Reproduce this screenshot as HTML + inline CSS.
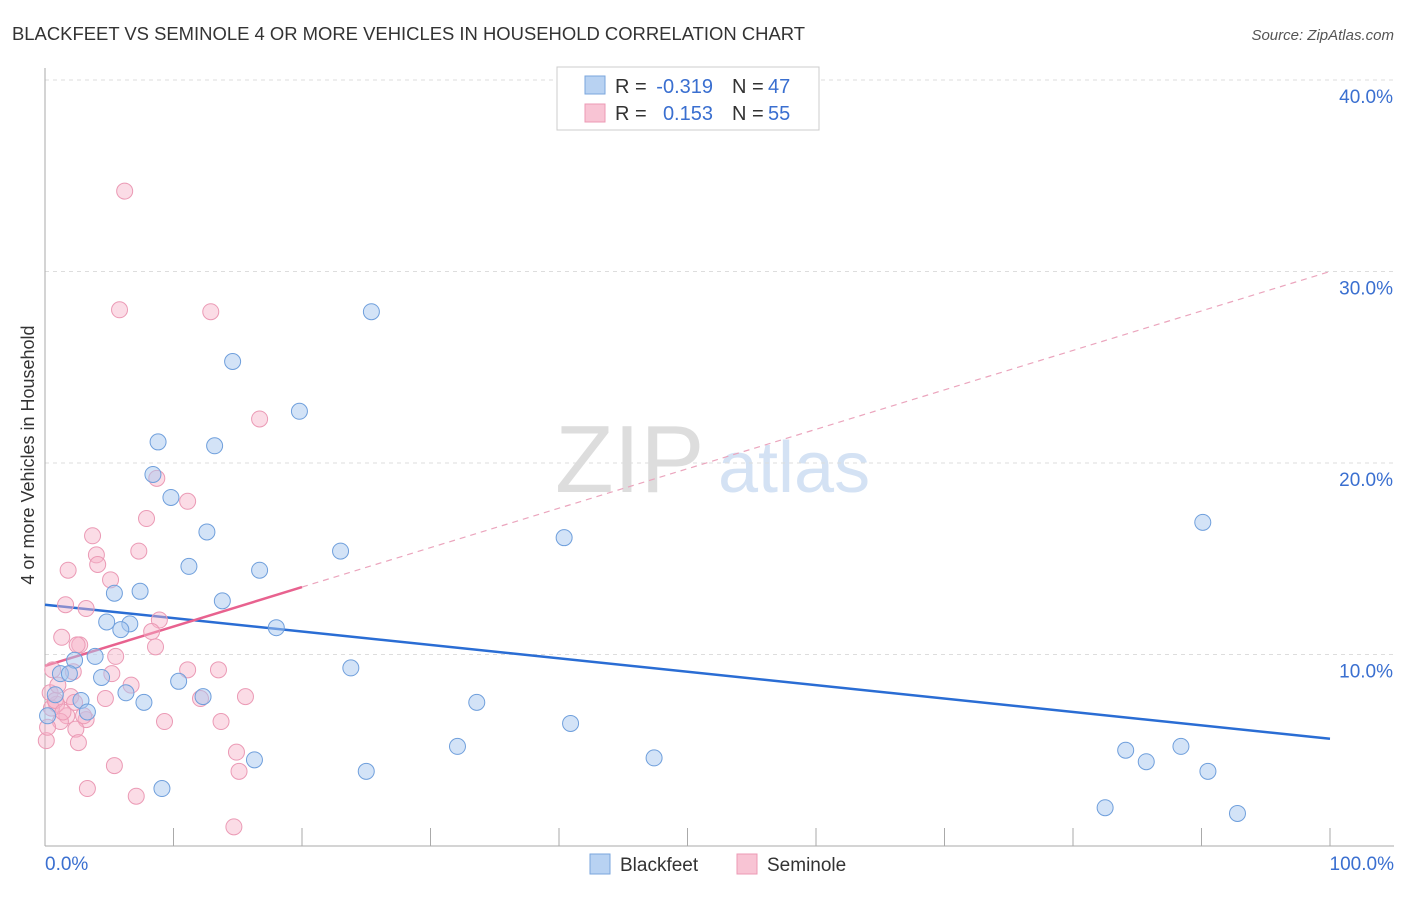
<!DOCTYPE html>
<html><head><meta charset="utf-8"><style>
body{margin:0;background:#fff;font-family:"Liberation Sans",sans-serif;}
svg text{font-family:"Liberation Sans",sans-serif;}
</style></head><body>
<svg id="chart" width="1406" height="892">
<text x="12" y="40" font-size="18" fill="#333" textLength="793" lengthAdjust="spacingAndGlyphs">BLACKFEET VS SEMINOLE 4 OR MORE VEHICLES IN HOUSEHOLD CORRELATION CHART</text>
<text x="1394" y="40" font-size="15" fill="#555" text-anchor="end" font-style="italic">Source: ZipAtlas.com</text>
<text x="34" y="455" font-size="18" fill="#333" text-anchor="middle" transform="rotate(-90 34 455)">4 or more Vehicles in Household</text>
<text x="555" y="492" font-size="96" fill="#ddd" font-family="Liberation Serif">ZIP</text>
<text x="718" y="492" font-size="72" fill="#d4e2f4">atlas</text>
<g id="grid"></g><g id="ticks"></g>
<g id="lines"></g><g id="pts"></g>
<g>
<rect x="557" y="67" width="262" height="63" fill="#fff" stroke="#ccc"/>
<rect x="585" y="76" width="20" height="18" fill="#b8d2f2" stroke="#7aa6dc"/>
<rect x="585" y="104" width="20" height="18" fill="#f8c4d4" stroke="#ec9ab4"/>
<text x="615" y="93" font-size="20" fill="#333">R =</text>
<text x="713" y="93" font-size="20" fill="#3a6fd0" text-anchor="end">-0.319</text>
<text x="732" y="93" font-size="20" fill="#333">N =</text>
<text x="768" y="93" font-size="20" fill="#3a6fd0">47</text>
<text x="615" y="120" font-size="20" fill="#333">R =</text>
<text x="713" y="120" font-size="20" fill="#3a6fd0" text-anchor="end">0.153</text>
<text x="732" y="120" font-size="20" fill="#333">N =</text>
<text x="768" y="120" font-size="20" fill="#3a6fd0">55</text>
</g>
<g>
<rect x="590" y="854" width="20" height="20" fill="#b8d2f2" stroke="#7aa6dc"/>
<text x="620" y="871" font-size="19" fill="#333">Blackfeet</text>
<rect x="737" y="854" width="20" height="20" fill="#f8c4d4" stroke="#ec9ab4"/>
<text x="767" y="871" font-size="19" fill="#333">Seminole</text>
</g>
</svg>
<script>
const yTicks=[10,20,30,40];
const xTickLabels=["0.0%","100.0%"];
const blackfeetX=[25.4,14.6,19.8,8.8,13.2,8.4,9.8,12.6,40.4,90.1,23,11.2,16.7,7.4,5.4,13.8,4.8,6.6,5.9,18,3.9,2.3,1.2,1.9,4.4,23.8,10.4,6.3,12.3,0.8,2.8,7.7,33.6,3.3,40.9,32.1,84.1,88.4,85.7,47.4,16.3,25,90.5,9.1,82.5,92.8,0.2];
const blackfeetY=[27.9,25.3,22.7,21.1,20.9,19.4,18.2,16.4,16.1,16.9,15.4,14.6,14.4,13.3,13.2,12.8,11.7,11.6,11.3,11.4,9.9,9.7,9,9,8.8,9.3,8.6,8,7.8,7.9,7.6,7.5,7.5,7,6.4,5.2,5,5.2,4.4,4.6,4.5,3.9,3.9,3,2,1.7,6.8];
const seminoleX=[6.2,5.8,12.9,16.7,8.7,11.1,7.9,3.7,7.3,4,4.1,1.8,5.1,1.6,3.2,8.9,8.3,1.3,2.7,8.6,2.5,5.5,0.6,11.1,13.5,2.2,5.2,6.7,15.6,4.7,2,12.1,0.9,0.5,2.3,1.7,3.2,1.2,9.3,13.7,2.4,2.6,0.1,14.9,5.4,15.1,3.3,7.1,14.7,0.4,0.8,0.2,1.4,3,1];
const seminoleY=[34.2,28,27.9,22.3,19.2,18,17.1,16.2,15.4,15.2,14.7,14.4,13.9,12.6,12.4,11.8,11.2,10.9,10.5,10.4,10.5,9.9,9.2,9.2,9.2,9.1,9,8.4,7.8,7.7,7.8,7.7,7.4,7.2,7.5,6.8,6.6,6.5,6.5,6.5,6.1,5.4,5.5,4.9,4.2,3.9,3,2.6,1,8,7.6,6.2,7,6.8,8.4];
const blueLine=[12.6,5.6];
const pinkLine=[9.4,30.0];
const ns="http://www.w3.org/2000/svg";
const X=v=>45+v*12.85, Y=v=>846-v*19.15;
function mk(t,a,p){const e=document.createElementNS(ns,t);for(const k in a)e.setAttribute(k,a[k]);p.appendChild(e);return e;}
const g=document.getElementById('grid'),tk=document.getElementById('ticks');
yTicks.forEach(v=>{
 const l=mk('line',{x1:45,x2:1394,y1:Y(v),y2:Y(v),stroke:'#ddd','stroke-dasharray':'4 4'},g);
 
 
 const t=mk('text',{x:1393,y:Y(v)+23,'font-size':19,fill:'#3a6fd0','text-anchor':'end'},tk);
 t.textContent=v.toFixed(1)+'%';
 
 
});
mk('line',{x1:45,x2:45,y1:68,y2:846,stroke:'#aaa'},tk);
mk('line',{x1:45,x2:1394,y1:846,y2:846,stroke:'#aaa'},tk);
for(let i=0;i<=10;i++){mk('line',{x1:X(i*10),x2:X(i*10),y1:828,y2:846,stroke:'#aaa'},tk);}
[[0,45,'start'],[1,1394,'end']].forEach(([i,x,a])=>{const t=mk('text',{x:x,y:870,'font-size':19,fill:'#3a6fd0','text-anchor':a},tk);t.textContent=xTickLabels[i];
 
 });
const ln=document.getElementById('lines'),pt=document.getElementById('pts');
const bl=mk('line',{x1:X(0),y1:Y(blueLine[0]),x2:X(100),y2:Y(blueLine[1]),stroke:'#2a6dd4','stroke-width':2.5},ln);


const py=x=>pinkLine[0]+(pinkLine[1]-pinkLine[0])*x/100;
const pd=mk('line',{x1:X(20),y1:Y(py(20)),x2:X(100),y2:Y(py(100)),stroke:'#eba5bd','stroke-width':1.2,'stroke-dasharray':'6 5'},ln);


const ps=mk('line',{x1:X(0),y1:Y(py(0)),x2:X(20),y2:Y(py(20)),stroke:'#e8628f','stroke-width':2.5},ln);


seminoleX.forEach((x,i)=>{const c=mk('circle',{cx:X(x),cy:Y(seminoleY[i]),r:8,fill:'rgba(246,178,200,0.45)',stroke:'#eb9ab5','stroke-width':1},pt);
 
 });
blackfeetX.forEach((x,i)=>{const c=mk('circle',{cx:X(x),cy:Y(blackfeetY[i]),r:8,fill:'rgba(168,200,240,0.5)',stroke:'#6f9fdc','stroke-width':1},pt);
 
 });
</script>
</body></html>
